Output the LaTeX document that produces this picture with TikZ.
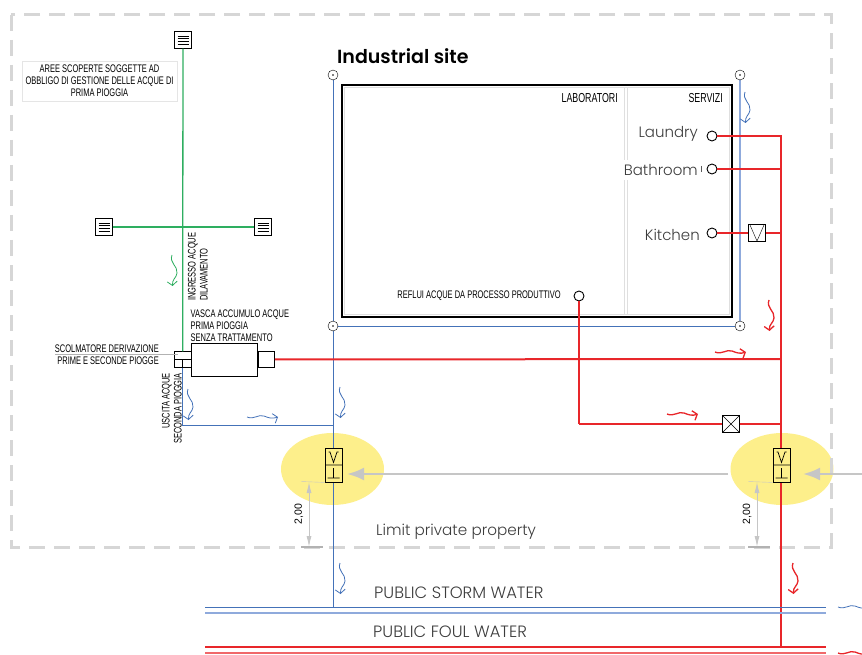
\documentclass[tikz,border=0pt]{standalone}
\usepackage{fontspec}
\usetikzlibrary{arrows.meta,positioning}
\setmainfont{Poppins}
\newfontfamily\lightfont{Poppins Light}
\newfontfamily\titlefont{Poppins SemiBold}
\newfontfamily\cadfont[FakeStretch=0.68]{Liberation Sans}
\newfontfamily\dimfont{Liberation Sans}
\definecolor{redline}{HTML}{E8262A}
\definecolor{redpale}{HTML}{F0686A}
\definecolor{blueline}{HTML}{4472B8}
\definecolor{bluepale}{HTML}{8FAADC}
\definecolor{greenline}{HTML}{2EAE60}
\definecolor{yellowspot}{HTML}{FDEF8B}
\definecolor{limitgray}{HTML}{D6D6D6}
\definecolor{arrowgray}{HTML}{C6C6C6}
\definecolor{textgray}{HTML}{3C3C3C}
\tikzset{%
    cadtext/.style={font=\cadfont\fontsize{11}{12}\selectfont, inner sep=0pt},
    bigcadtext/.style={font=\cadfont\fontsize{13}{14}\selectfont, inner sep=0pt},
    roomtext/.style={font=\lightfont\fontsize{15}{17}\selectfont, text=textgray, inner sep=0pt},
    publictext/.style={font=\lightfont\fontsize{16.4}{18}\selectfont, text=textgray, inner sep=0pt, anchor=west},
    grate/.style={draw, fill=white, minimum size=17pt, inner sep=0pt,
        path picture={\draw[shift={(path picture bounding box.center)},line width=0.4pt]
            (-5.5,-4)--(5.5,-4) (-5.5,-1.3)--(5.5,-1.3) (-5.5,1.3)--(5.5,1.3) (-5.5,4)--(5.5,4);}},
    manhole/.style={draw, circle, fill=white, minimum size=10pt, inner sep=0pt,
        path picture={\fill[black] (path picture bounding box.center) circle (0.8);}},
    drain/.style={draw, circle, fill=white, minimum size=10pt, inner sep=0pt, line width=0.9pt},
    checkvalve/.style={draw, fill=white, minimum size=17pt, inner sep=0pt,
        path picture={\draw[shift={(path picture bounding box.center)}] (-7,-8)--(0,8)--(7,-8);}},
    gatevalve/.style={draw, fill=white, minimum size=17pt, inner sep=0pt,
        path picture={\draw (path picture bounding box.north west)--(path picture bounding box.south east)
            (path picture bounding box.north east)--(path picture bounding box.south west);}},
    inspection/.style={draw, fill=yellowspot, minimum width=17pt, minimum height=34pt, inner sep=0pt, line width=0.9pt,
        path picture={\draw[shift={(path picture bounding box.center)},line width=0.7pt]
            (-8.5,0)--(8.5,0) (-5,-13)--(-3.5,-13)--(0,-2.5)--(3.5,-13)--(5,-13)
            (0,3)--(0,13) (-6,13)--(6,13);}},
    redpipe/.style={redline, line width=2pt},
    flowline/.style={-{Straight Barb[length=4pt,width=10pt]}},
    flowblue/.style={color=blueline, line width=0.8pt},
    flowred/.style={color=redline, line width=1.3pt},
    pics/flowdown/.style={code={
        \draw[flowline] (0,0) .. controls (-3,8) and (6,11) .. (5,18) .. controls (4.5,23) and (0,24) .. (0.5,31);}},
    pics/flowright/.style={code={
        \draw[flowline] (0,0) .. controls (7,3) and (11,-3) .. (17,-1) .. controls (22,1) and (25,2) .. (31,0);}},
    dimline/.style={arrowgray, line width=0.9pt, {Latex[length=11pt,width=5pt]}-{Latex[length=11pt,width=5pt]}},
    bigarrow/.style={arrowgray, line width=2.6pt, -{Latex[length=17pt,width=13pt]}}
}
\begin{document}
\begin{tikzpicture}[x=1pt,y=-1pt]
    \useasboundingbox (0,0) rectangle (862,655);
    \fill[yellowspot] (332.5,469) ellipse (51.5 and 36);
    \fill[yellowspot] (782,469) ellipse (51.5 and 36);
    \draw[limitgray, line width=3pt, dash pattern=on 16pt off 9pt] (11,15) rectangle (831,547);

    \foreach \name/\x/\y in {grateup/183/40,grateleft/104/227,grateright/263/227}
    {
    \node[grate] (\name) at (\x,\y) {};
    }
    \foreach \name/\x/\y in {mhnw/333/75,mhne/740/75,mhsw/333/326,mhse/740/326}
    {
    \coordinate (\name c) at (\x,\y);
    }
    \coordinate (joinstorm) at (333,425);
    \coordinate (teestorm) at (333,607);
    \coordinate (teelaundry) at (781,136);
    \coordinate (teebath) at (781,169);
    \coordinate (teekitchen) at (781,233);
    \coordinate (teetank) at (781,359);
    \coordinate (teeprocess) at (781,424);
    \coordinate (teefoul) at (781,647);
    \coordinate (elbow) at (579,424);

    \draw[bluepale, line width=1.4pt] (mhnec) -- (mhsec);
    \draw[blueline, line width=0.8pt] (mhnwc) -- (teestorm);
    \draw[blueline, line width=0.8pt] (mhswc) -- (mhsec);
    \draw[line width=1.6pt] (342,85) rectangle (732,317);
    \draw[gray!25, line width=0.9pt] (344.5,87.5) rectangle (729.5,314.5);
    \draw[gray!25, line width=0.9pt] (624.5,87.5)--(624.5,314.5) (627.5,87.5)--(627.5,314.5);

    \node[roomtext, fill=white, anchor=east, inner ysep=4pt] (bathroom) at (698,170) {Bathroom};
    \draw[gray!70!black, line width=0.5pt] (701,166)--(701,172);
    \node[roomtext, anchor=east] (laundry) at (698,134) {Laundry};
    \node[roomtext, anchor=east] (kitchen) at (700,234.5) {Kitchen};
    \node[bigcadtext, anchor=east] (labs) at (618,98) {LABORATORI};
    \node[bigcadtext, anchor=east] (services) at (723,98) {SERVIZI};
    \node[cadtext, anchor=east] (process) at (561,296) {REFLUI ACQUE DA PROCESSO PRODUTTIVO};
    \node[anchor=west, inner sep=0pt, font=\titlefont\fontsize{19}{22}\selectfont] (title) at (337,56) {Industrial site};
    \node[cadtext, draw=gray!20, minimum width=155pt, minimum height=40pt, align=center] (note) at (99.5,81)
        {AREE SCOPERTE SOGGETTE AD\\OBBLIGO DI GESTIONE DELLE ACQUE DI\\PRIMA PIOGGIA};

    \node[draw, line width=0.8pt, minimum width=66pt, minimum height=33pt, inner sep=0pt] (tank) at (224.5,359.5) {};
    \node[draw, minimum width=16.5pt, minimum height=16pt, inner sep=0pt, right=0pt of tank] (tankout) {};
    \node[draw, minimum width=16.5pt, minimum height=16pt, inner sep=0pt, left=0pt of tank] (overflow) {};
    \draw (overflow.west) -- (overflow.east);
    \draw (overflow.center) -- (overflow.south);
    \draw[gray!60] (55,354) -- (178,354);
    \node[cadtext, align=left, anchor=north west] (tanktext) at (190.5,310) {VASCA ACCUMULO ACQUE\\PRIMA PIOGGIA\\SENZA TRATTAMENTO};
    \node[cadtext, anchor=east] (overflowup) at (159,349) {SCOLMATORE DERIVAZIONE};
    \node[cadtext, anchor=east] (overflowdown) at (159,361) {PRIME E SECONDE PIOGGE};
    \node[cadtext, rotate=90, align=left, anchor=south west] (intext) at (208,301) {INGRESSO ACQUE\\DILAVAMENTO};
    \node[cadtext, rotate=90, align=right, anchor=south east] (outtext) at (182,373) {USCITA ACQUE\\SECONDA PIOGGIA};

    \draw[greenline, line width=1.3pt] (grateup) -- (overflow.north);
    \draw[greenline, line width=1.3pt] (grateleft) -- (grateright);
    \draw[blueline, line width=0.8pt] (overflow.south) |- (joinstorm);

    \foreach \name/\x/\y in {draina/712/136,drainb/712/169,drainc/712/233,draind/579/296}
    {
    \node[drain] (\name) at (\x,\y) {};
    }
    \node[checkvalve] (valvekitchen) at (757,233) {};
    \node[gatevalve] (valveprocess) at (731,424) {};
    \draw[redpipe] (draina) -- (teelaundry) -- (teefoul);
    \draw[redpipe] (drainb) -- (teebath);
    \draw[redpipe] (drainc) -- (valvekitchen) -- (teekitchen);
    \draw[redpipe] (tankout) -- (teetank);
    \draw[redline, line width=1.2pt] (draind) -- (elbow);
    \draw[redpipe] (elbow) -- (valveprocess) -- (teeprocess);

    \foreach \name/\x/\y in {mhnw/333/75,mhne/740/75,mhsw/333/326,mhse/740/326}
    {
    \node[manhole] (\name) at (\x,\y) {};
    }

    \draw[bigarrow] (728,474) -- (347,474);
    \draw[bigarrow] (862,474) -- (803,474);
    \node[inspection] (inspleft) at (333.5,465) {};
    \node[inspection] (inspright) at (781.5,465) {};

    \draw[arrowgray] (301,481.5) -- (inspleft.south west);
    \draw[arrowgray] (748,481.5) -- (inspright.south west);
    \draw[dimline] (309,482) -- (309,547);
    \draw[dimline] (757,482) -- (757,547);
    \draw[gray!60, line width=2pt] (301,547) -- (323,547) (748,547) -- (770,547);
    \node[font=\dimfont\fontsize{10.5}{12}\selectfont, rotate=90, inner sep=0pt] (dimleft) at (299,514) {2,00};
    \node[font=\dimfont\fontsize{10.5}{12}\selectfont, rotate=90, inner sep=0pt] (dimright) at (747,514) {2,00};

    \node[publictext, font=\lightfont\fontsize{15.2}{18}\selectfont] (limit) at (376,532) {Limit private property};
    \node[publictext] (storm) at (374,593) {PUBLIC STORM WATER};
    \node[publictext] (foul) at (373,632) {PUBLIC FOUL WATER};

    \draw[blueline, line width=0.9pt] (205,607) -- (826,607);
    \draw[bluepale, line width=1.2pt] (205,613) -- (826,613);
    \draw[redline, line width=2pt] (205,647) -- (826,647);
    \draw[redpale, line width=1.6pt] (205,653) -- (826,653);

    \pic[color=greenline, line width=0.8pt] at (172,255) {flowdown};
    \pic[flowblue] at (188,389) {flowdown};
    \pic[flowblue] at (340,387) {flowdown};
    \pic[flowblue] at (340,563) {flowdown};
    \pic[flowblue] at (745,92) {flowdown};
    \pic[flowblue] at (247,417) {flowright};
    \pic[flowred] at (769,300) {flowdown};
    \pic[flowred] at (793,563) {flowdown};
    \pic[flowred] at (715,352) {flowright};
    \pic[flowred] at (667,414) {flowright};
    \pic[flowblue] at (838,607) {flowright};
    \pic[flowred] at (838,653) {flowright};
\end{tikzpicture}
\end{document}
